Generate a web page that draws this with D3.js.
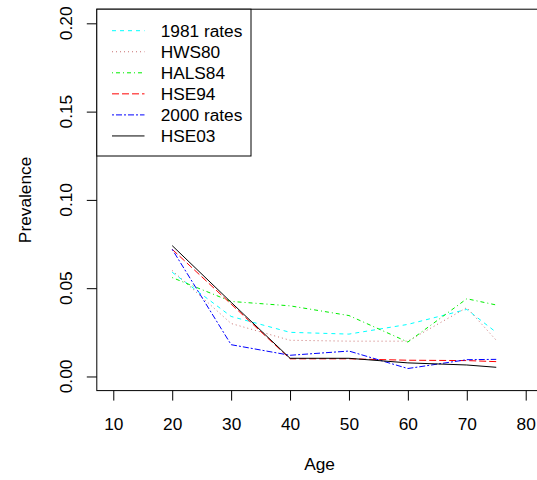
<!DOCTYPE html>
<html>
<head>
<meta charset="utf-8">
<script src="https://cdn.jsdelivr.net/npm/d3@7"></script>
<style>
  body { margin: 0; background: #fff; }
  svg text { font-family: "Liberation Sans", Arial, sans-serif; font-size: 17.3px; fill: #000; }
</style>
</head>
<body>
<div id="chart"></div>
<script>
const width = 537;
const height = 480;

// ages and prevalence per survey
var ages = [20, 30, 40, 50, 60, 70, 75];
var rates1981 = [0.059, 0.034, 0.025, 0.024, 0.0295, 0.038, 0.025];
var hws80 = [0.060, 0.030, 0.0205, 0.020, 0.020, 0.039, 0.0205];
var hals84 = [0.056, 0.0425, 0.040, 0.0345, 0.0195, 0.044, 0.0405];
var hse94 = [0.072, 0.041, 0.010, 0.010, 0.0092, 0.009, 0.0084];
var rates2000 = [0.072, 0.018, 0.012, 0.0144, 0.0045, 0.0095, 0.0097];
var hse03 = [0.0741, 0.042, 0.0103, 0.0103, 0.0077, 0.0065, 0.0052];

var seriesNames = ['1981 rates', 'HWS80', 'HALS84', 'HSE94', '2000 rates', 'HSE03'];
var seriesValues = [rates1981, hws80, hals84, hse94, rates2000, hse03];
var seriesColors = ['#00ffff', '#c97070', '#00ee00', '#ff0000', '#0000ff', '#000000'];
var seriesDash = ['4,4', '1,3', '1,3,4,3', '7,3', '2,2,6,2', null];

var xTicks = [10, 20, 30, 40, 50, 60, 70, 80];
var yTicks = [0, 0.05, 0.10, 0.15, 0.20];

// R style: 4% padding round xlim c(10,80), ylim c(0,0.2)
var xScale = d3.scaleLinear().domain([7.2, 82.8]).range([96.8, 542.2]);
var yScale = d3.scaleLinear().domain([-0.008, 0.208]).range([390.6, 9.2]);

var svg = d3.select('#chart')
            .append('svg')
            .attr('width', width)
            .attr('height', height);

// lines
var line = d3.line()
             .x(function(d){ return xScale(d[0]); })
             .y(function(d){ return yScale(d[1]); });

for(var i = 0; i < seriesValues.length; i++){
    var pts = ages.map(function(a, k){ return [a, seriesValues[i][k]]; });
    svg.append('path')
       .attr('d', line(pts))
       .attr('fill', 'none')
       .attr('stroke', seriesColors[i])
       .attr('stroke-width', 1)
       .attr('stroke-dasharray', seriesDash[i]);
}

// x axis
var xAxis = d3.axisBottom(xScale)
              .tickValues(xTicks)
              .tickSize(10)
              .tickSizeOuter(0)
              .tickPadding(17)
              .tickFormat(d3.format('d'));
var gx = svg.append('g')
            .attr('transform', 'translate(0,' + yScale.range()[0] + ')')
            .call(xAxis);
gx.select('.domain').remove();
gx.selectAll('text').style('font-size', '17.3px').style('font-family', '"Liberation Sans", Arial, sans-serif');

// y axis (ticks only, labels rotated like R)
var yAxis = d3.axisLeft(yScale)
              .tickValues(yTicks)
              .tickSize(10)
              .tickSizeOuter(0)
              .tickFormat('');
var gy = svg.append('g')
            .attr('transform', 'translate(' + xScale.range()[0] + ',0)')
            .call(yAxis);
gy.select('.domain').remove();

svg.append('g')
   .selectAll('.ylab')
   .data(yTicks)
   .enter()
   .append('text')
   .attr('class', 'ylab')
   .attr('text-anchor', 'middle')
   .attr('transform', function(d){ return 'translate(72,' + yScale(d) + ') rotate(-90)'; })
   .text(function(d){ return d3.format('.2f')(d); });

// plot box
svg.append('rect')
   .attr('x', xScale.range()[0])
   .attr('y', yScale.range()[1])
   .attr('width', xScale.range()[1] - xScale.range()[0])
   .attr('height', yScale.range()[0] - yScale.range()[1])
   .attr('fill', 'none')
   .attr('stroke', '#000')
   .attr('stroke-width', 1);

// axis titles
svg.append('text')
   .attr('x', (xScale.range()[0] + xScale.range()[1]) / 2)
   .attr('y', 470)
   .attr('text-anchor', 'middle')
   .text('Age');

svg.append('text')
   .attr('text-anchor', 'middle')
   .attr('transform', 'translate(31,' + (yScale.range()[0] + yScale.range()[1]) / 2 + ') rotate(-90)')
   .text('Prevalence');

// legend (topleft)
var legend = svg.append('g');
legend.append('rect')
      .attr('x', xScale.range()[0])
      .attr('y', yScale.range()[1])
      .attr('width', 154.2)
      .attr('height', 146.8)
      .attr('fill', '#fff')
      .attr('stroke', '#000')
      .attr('stroke-width', 1);

var rowY = d3.scaleLinear().domain([0, 1]).range([30.7, 51.75]);
seriesNames.forEach(function(name, k){
    legend.append('line')
          .attr('x1', 112).attr('x2', 144.5)
          .attr('y1', rowY(k)).attr('y2', rowY(k))
          .attr('stroke', seriesColors[k])
          .attr('stroke-width', 1)
          .attr('stroke-dasharray', seriesDash[k]);
    legend.append('text')
          .attr('x', 160.7)
          .attr('y', rowY(k) + 6.3)
          .text(name);
});
</script>
</body>
</html>
